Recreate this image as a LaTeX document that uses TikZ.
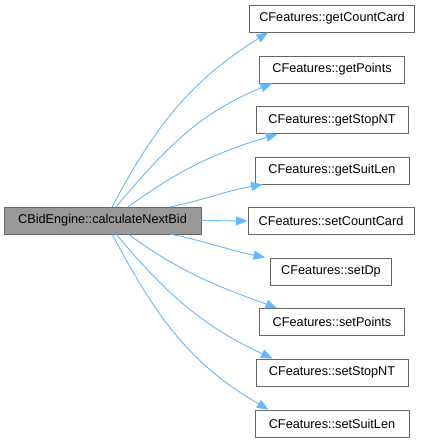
\documentclass[tikz,border=0pt]{standalone}
\usepackage{fontspec}
\setmainfont{Liberation Sans}
\usetikzlibrary{arrows.meta}
\definecolor{edgeblue}{HTML}{63B8FF}
\definecolor{boxborder}{HTML}{666666}
\definecolor{mainfill}{HTML}{999999}
\begin{document}
\begin{tikzpicture}[x=1pt,y=-1pt,
  fn/.style={draw=boxborder,line width=0.9pt,fill=white,minimum height=27pt,inner sep=0pt,
    font=\fontsize{12.7}{14}\selectfont,anchor=center},
  mainbox/.style={fn,fill=mainfill},
  call/.style={draw=edgeblue,line width=0.9pt,-{Triangle[length=11.5pt,width=9pt]}}]
\useasboundingbox (0,0) rectangle (422,443);
\node[mainbox,minimum width=197pt] (m) at (102.5,220.5) {CBidEngine::calculateNextBid};
\node[fn,minimum width=165pt] (a) at (332,18.5) {CFeatures::getCountCard};
\node[fn,minimum width=145pt] (b) at (332,69.5) {CFeatures::getPoints};
\node[fn,minimum width=152pt] (c) at (332,120) {CFeatures::getStopNT};
\node[fn,minimum width=154pt] (d) at (332,170.5) {CFeatures::getSuitLen};
\node[fn,minimum width=166pt] (e) at (331,221) {CFeatures::setCountCard};
\node[fn,minimum width=121pt] (f) at (331,271.5) {CFeatures::setDp};
\node[fn,minimum width=145pt] (g) at (332,322) {CFeatures::setPoints};
\node[fn,minimum width=152pt] (h) at (332,372.5) {CFeatures::setStopNT};
\node[fn,minimum width=154pt] (i) at (332,423.5) {CFeatures::setSuitLen};
\coordinate (s1) at (112,207);
\coordinate (s2) at (116,207);
\coordinate (s3) at (128,207);
\coordinate (s4) at (170,207);
\coordinate (s6) at (170,234);
\coordinate (s7) at (128,234);
\coordinate (s8) at (116,234);
\coordinate (s9) at (112,234);
\draw[call] (s1) to[out=62,in=-148] ([xshift=19pt]a.south west);
\draw[call] (s2) to[out=50,in=-158] ([xshift=13pt]b.south west);
\draw[call] (s3) to[out=36,in=-163] ([xshift=22pt]c.south west);
\draw[call] (s4) to[out=12,in=-170] ([xshift=8pt]d.south west);
\draw[call] (m.east) -- (e.west);
\draw[call] (s6) to[out=-12,in=168] ([xshift=-5pt]f.north west);
\draw[call] (s7) to[out=-36,in=160] ([xshift=18pt]g.north west);
\draw[call] (s8) to[out=-50,in=155] ([xshift=17pt]h.north west);
\draw[call] (s9) to[out=-62,in=150] ([xshift=14pt]i.north west);
\end{tikzpicture}
\end{document}
